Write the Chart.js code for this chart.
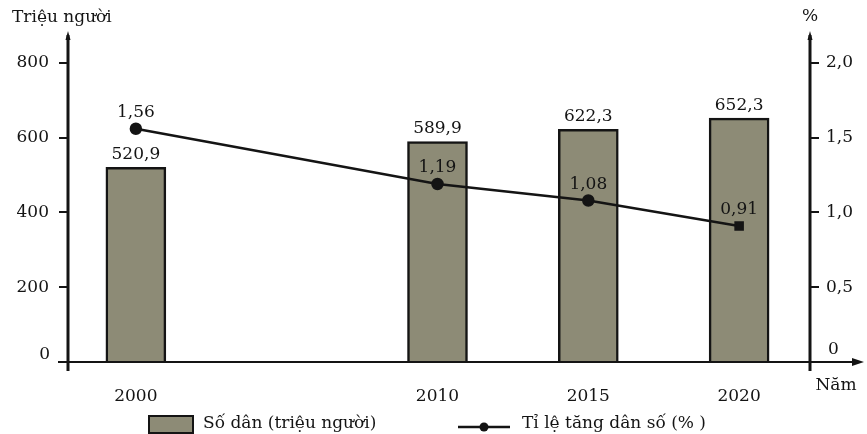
<!DOCTYPE html>
<html>
<head>
<meta charset="utf-8">
<script src="https://cdn.jsdelivr.net/npm/chart.js@4.4.1/dist/chart.umd.min.js"></script>
<style>
  html, body { margin: 0; padding: 0; background: #fff; }
  #wrap { width: 867px; height: 434px; }
</style>
</head>
<body>
<div id="wrap"><canvas id="c" width="867" height="434"></canvas></div>
<script>
// Dân số và tỉ lệ tăng dân số
const years = [2000, 2010, 2015, 2020];
const population = [520.9, 589.9, 622.3, 652.3];   // triệu người
const growthRate = [1.56, 1.19, 1.08, 0.91];        // %
const leftTicks = [0, 200, 400, 600, 800];
const rightTicks = [0, 0.5, 1.0, 1.5, 2.0];

const FONT = 'DejaVu Serif';
const FSIZE = 17;
const INK = '#141414';
const BAR_FILL = '#8d8b76';

const fmt = (v, d) => v.toFixed(d).replace('.', ',');

// Axes with arrows, value labels, axis captions and legend
const decor = {
  id: 'decor',
  afterDatasetsDraw(chart) {
    const { ctx, chartArea: a } = chart;
    ctx.save();
    ctx.strokeStyle = INK;
    ctx.fillStyle = INK;

    // x axis (baseline) with arrow
    ctx.lineWidth = 2;
    ctx.beginPath();
    ctx.moveTo(a.left - 10, a.bottom);
    ctx.lineTo(856, a.bottom);
    ctx.stroke();
    ctx.beginPath();
    ctx.moveTo(864, a.bottom);
    ctx.lineTo(852, a.bottom - 4);
    ctx.lineTo(852, a.bottom + 4);
    ctx.closePath();
    ctx.fill();

    // vertical axes
    ctx.lineWidth = 3;
    [a.left, a.right].forEach(x => {
      ctx.beginPath();
      ctx.moveTo(x, a.top + 2);
      ctx.lineTo(x, a.bottom + 9);
      ctx.stroke();
      ctx.beginPath();
      ctx.moveTo(x, a.top - 2);
      ctx.lineTo(x - 2.5, a.top + 7);
      ctx.lineTo(x + 2.5, a.top + 7);
      ctx.closePath();
      ctx.fill();
    });

    // value labels
    ctx.font = FSIZE + 'px "' + FONT + '"';
    ctx.textAlign = 'center';
    ctx.textBaseline = 'middle';
    const barMeta = chart.getDatasetMeta(1);
    barMeta.data.forEach((el, i) => {
      ctx.fillText(fmt(population[i], 1), el.x, el.y - 13);
    });
    const lineMeta = chart.getDatasetMeta(0);
    lineMeta.data.forEach((el, i) => {
      ctx.fillText(fmt(growthRate[i], 2), el.x, el.y - 16);
    });

    // zero labels sit just above the baseline
    ctx.textAlign = 'right';
    ctx.fillText('0', a.left - 18, a.bottom - 7);
    ctx.textAlign = 'left';
    ctx.fillText('0', a.right + 18, a.bottom - 12);

    // axis captions
    ctx.textAlign = 'left';
    ctx.fillText('Triệu người', 12, 18);
    ctx.textAlign = 'center';
    ctx.fillText('%', a.right, 17);
    ctx.fillText('Năm', 836, 386);

    // legend
    const ds = chart.data.datasets;
    const ly = 424;
    ctx.fillStyle = BAR_FILL;
    ctx.fillRect(149, 416, 44, 17);
    ctx.lineWidth = 2;
    ctx.strokeStyle = INK;
    ctx.strokeRect(149, 416, 44, 17);
    ctx.fillStyle = INK;
    ctx.textAlign = 'left';
    ctx.fillText(ds[1].label, 203, ly);

    ctx.lineWidth = 2.5;
    ctx.beginPath();
    ctx.moveTo(458, 427);
    ctx.lineTo(510, 427);
    ctx.stroke();
    ctx.beginPath();
    ctx.arc(484, 427, 4.5, 0, Math.PI * 2);
    ctx.fill();
    ctx.fillText(ds[0].label, 522, ly);

    ctx.restore();
  }
};

new Chart(document.getElementById('c'), {
  type: 'bar',
  data: {
    datasets: [
      {
        type: 'line',
        label: 'Tỉ lệ tăng dân số (% )',
        data: years.map((y, i) => ({ x: y, y: growthRate[i] })),
        yAxisID: 'y1',
        borderColor: INK,
        backgroundColor: INK,
        borderWidth: 2.5,
        pointRadius: 5,
        pointStyle: ['circle', 'circle', 'circle', 'rect'],
        pointBackgroundColor: INK,
        pointBorderColor: INK,
        tension: 0,
        order: 0
      },
      {
        type: 'bar',
        label: 'Số dân (triệu người)',
        data: years.map((y, i) => ({ x: y, y: population[i] })),
        yAxisID: 'y',
        backgroundColor: BAR_FILL,
        borderColor: INK,
        borderWidth: 2.5,
        borderSkipped: 'bottom',
        barThickness: 60,
        order: 1
      }
    ]
  },
  options: {
    responsive: false,
    animation: false,
    layout: { padding: { top: 33, left: 0, right: 0, bottom: 0 } },
    plugins: {
      legend: { display: false },
      tooltip: { enabled: false }
    },
    scales: {
      x: {
        type: 'linear',
        offset: false,
        min: 1997.75,
        max: 2022.35,
        afterBuildTicks: s => { s.ticks = years.map(v => ({ value: v })); },
        afterFit: s => { s.height = 72; },
        grid: { display: false, offset: false },
        border: { display: false },
        ticks: {
          autoSkip: false,
          maxRotation: 0,
          padding: 16,
          color: INK,
          font: { family: FONT, size: FSIZE },
          callback: v => String(v)
        }
      },
      y: {
        position: 'left',
        min: 0,
        max: 880,
        afterBuildTicks: s => { s.ticks = leftTicks.map(v => ({ value: v })); },
        afterFit: s => { s.width = 68; },
        grid: { drawOnChartArea: false, drawTicks: true, tickLength: 9, color: INK, lineWidth: 2 },
        border: { display: false },
        ticks: {
          padding: 10,
          color: INK,
          font: { family: FONT, size: FSIZE },
          callback: v => (v === 0 ? '' : String(v))
        }
      },
      y1: {
        position: 'right',
        min: 0,
        max: 2.2,
        afterBuildTicks: s => { s.ticks = rightTicks.map(v => ({ value: v })); },
        afterFit: s => { s.width = 57; },
        grid: { drawOnChartArea: false, drawTicks: true, tickLength: 9, color: INK, lineWidth: 2 },
        border: { display: false },
        ticks: {
          padding: 7,
          color: INK,
          font: { family: FONT, size: FSIZE },
          callback: v => (v === 0 ? '' : fmt(v, 1))
        }
      }
    }
  },
  plugins: [decor]
});
</script>
</body>
</html>
